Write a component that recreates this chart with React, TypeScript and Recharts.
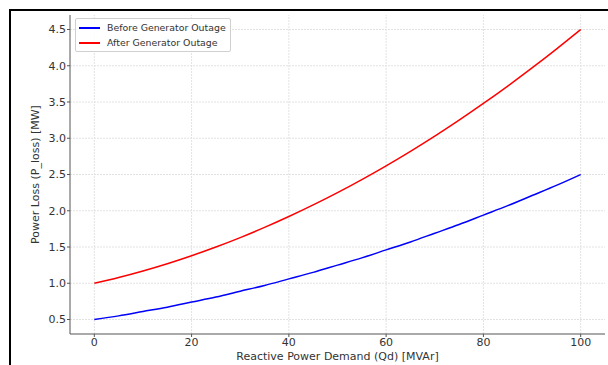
import { Line, LineChart, ReferenceLine, XAxis, YAxis } from "recharts";

// reactive power demand Qd [MVAr]
const demand = [0, 5, 10, 15, 20, 25, 30, 35, 40, 45, 50, 55, 60, 65, 70, 75, 80, 85, 90, 95, 100];
// power loss [MW]
const lossBefore = [0.5, 0.55, 0.61, 0.67, 0.74, 0.81, 0.89, 0.97, 1.06, 1.15, 1.25, 1.35, 1.46, 1.57, 1.69, 1.81, 1.94, 2.07, 2.21, 2.35, 2.5];
const lossAfter = [1.0, 1.08, 1.17, 1.27, 1.38, 1.5, 1.63, 1.77, 1.92, 2.08, 2.25, 2.43, 2.62, 2.82, 3.03, 3.25, 3.48, 3.72, 3.97, 4.23, 4.5];

const xTicks = [0, 20, 40, 60, 80, 100];
const yTicks = [0.5, 1.0, 1.5, 2.0, 2.5, 3.0, 3.5, 4.0, 4.5];

const seriesInfo = [
  { key: "before", name: "Before Generator Outage", color: "#0000ff" },
  { key: "after", name: "After Generator Outage", color: "#ff0000" },
];

const FONT = '"DejaVu Sans", sans-serif';
const TEXT = "#333333";
const SPINE = "#555555";
const GRID = "#e2e2e2";

const data = demand.map((qd, i) => ({ qd, before: lossBefore[i], after: lossAfter[i] }));

// matplotlib-style boxed legend in the upper-left corner.
// Kept outside the chart so recharts doesn't shrink the plot area for it.
function BoxLegend() {
  return (
    <div
      style={{
        position: "absolute",
        left: 75,
        top: 18,
        border: "1px solid #d0d0d0",
        borderRadius: 2,
        background: "rgba(255,255,255,0.85)",
        padding: "1px 4px 1px 3px",
        fontFamily: FONT,
        fontSize: 9.4,
        color: TEXT,
      }}
    >
      {seriesInfo.map((s) => (
        <div key={s.key} style={{ display: "flex", alignItems: "center", height: 15 }}>
          <span style={{ display: "inline-block", width: 21, height: 2, background: s.color, marginRight: 7 }} />
          <span style={{ whiteSpace: "nowrap" }}>{s.name}</span>
        </div>
      ))}
    </div>
  );
}

export default function App() {
  return (
    <div style={{ position: "absolute", left: 0, top: 0, width: 608, height: 365, background: "#fff", overflow: "hidden" }}>
      {/* dark frame from the original screenshot */}
      <div
        style={{
          position: "absolute",
          left: 9,
          top: 9,
          width: 620,
          height: 380,
          borderTop: "2px solid #000",
          borderLeft: "2px solid #000",
        }}
      />
      <div style={{ position: "absolute", left: 0, top: 0 }}>
        <LineChart width={608} height={365} data={data} margin={{ top: 15, right: 3, bottom: 0, left: 0 }}>
          {/* grid drawn as reference lines so there are no extra lines on the plot edges */}
          {xTicks.map((t) => (
            <ReferenceLine key={`gx${t}`} x={t} stroke={GRID} strokeDasharray="2 1" />
          ))}
          {yTicks.map((t) => (
            <ReferenceLine key={`gy${t}`} y={t} stroke={GRID} strokeDasharray="2 1" />
          ))}
          <XAxis
            dataKey="qd"
            type="number"
            domain={[-5, 105]}
            ticks={xTicks}
            height={31}
            tickSize={3}
            tickMargin={1}
            stroke={SPINE}
            tick={{ fill: TEXT, fontSize: 11, fontFamily: FONT }}
            label={{
              value: "Reactive Power Demand (Qd) [MVAr]",
              position: "insideBottom",
              offset: 5,
              style: { fill: TEXT, fontSize: 11, fontFamily: FONT },
            }}
          />
          <YAxis
            type="number"
            domain={[0.3, 4.7]}
            ticks={yTicks}
            width={70}
            tickSize={3}
            tickMargin={1}
            stroke={SPINE}
            tickFormatter={(v: number) => v.toFixed(1)}
            tick={{ fill: TEXT, fontSize: 11, fontFamily: FONT }}
            label={{
              value: "Power Loss (P_loss) [MW]",
              angle: -90,
              position: "insideLeft",
              offset: 35,
              style: { fill: TEXT, fontSize: 11, fontFamily: FONT, textAnchor: "middle" },
            }}
          />
          {seriesInfo.map((s) => (
            <Line
              key={s.key}
              dataKey={s.key}
              name={s.name}
              stroke={s.color}
              strokeWidth={1.5}
              dot={false}
              type="monotone"
              isAnimationActive={false}
            />
          ))}
        </LineChart>
      </div>
      <BoxLegend />
    </div>
  );
}
